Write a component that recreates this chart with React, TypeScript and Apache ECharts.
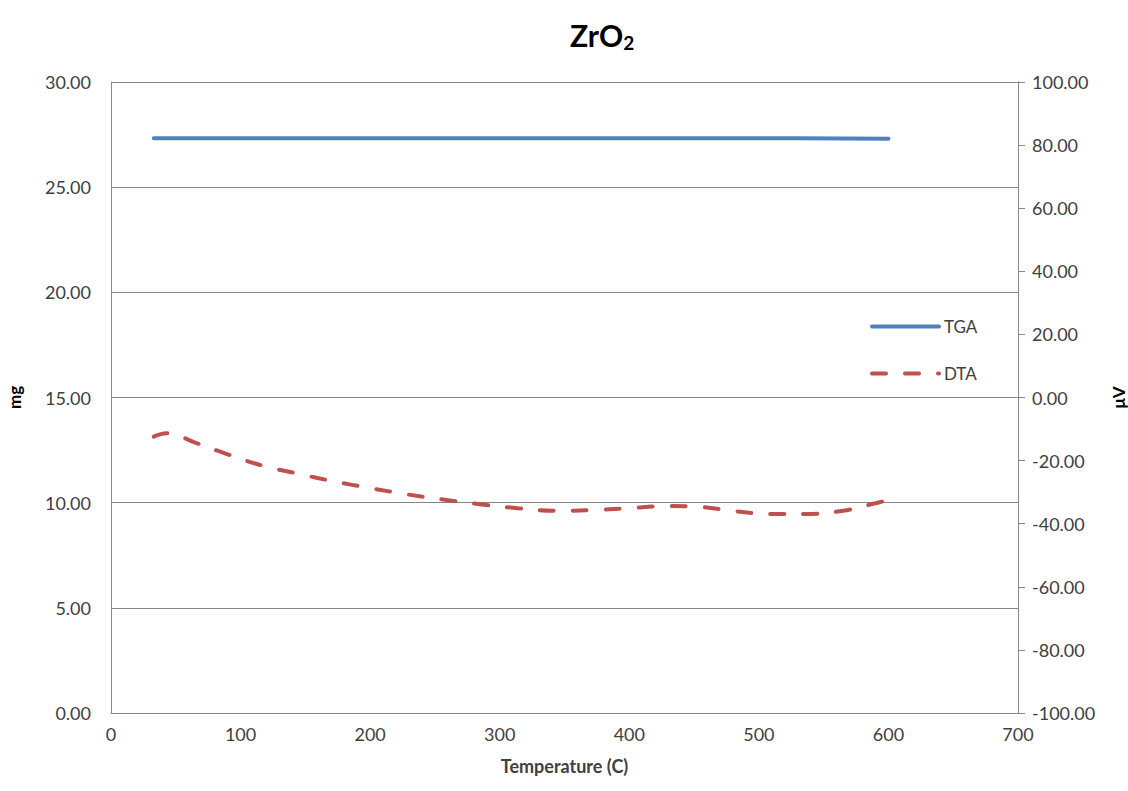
import React, { useEffect, useRef } from "react";
import * as echarts from "echarts";

const tgaData: [number, number][] = [
  [33, 27.33], [150, 27.33], [300, 27.33], [450, 27.32], [530, 27.32], [600, 27.3],
];
const dtaData: [number, number][] = [
  [33, -12.4], [43, -11.3], [65, -14.3], [90, -18], [117, -21.6], [145, -24.2],
  [172, -26.6], [200, -28.7], [227, -30.6], [256, -32.3], [286, -33.9], [314, -35.1],
  [343, -35.9], [370, -35.7], [399, -35.1], [428, -34.4], [455, -34.7], [481, -36],
  [509, -36.9], [537, -36.9], [565, -35.9], [590, -33.5], [600, -32.5],
];

const FONT = "Lato";
const LABEL = "#404040";
const AXIS = "#868686";

export default function App() {
  const ref = useRef<HTMLDivElement>(null);
  useEffect(() => {
    const chart = echarts.init(ref.current!, null, { renderer: "svg" });
    chart.setOption({
      animation: false,
      backgroundColor: "#fff",
      textStyle: { fontFamily: FONT },
      title: {
        text: "ZrO{sub|2}",
        left: 565,
        top: 12,
        textStyle: {
          fontFamily: FONT,
          fontSize: 30,
          fontWeight: "bold",
          color: "#000",
          rich: {
            sub: { fontFamily: FONT, fontSize: 19, fontWeight: "bold", color: "#000", verticalAlign: "bottom", padding: [16, 0, 0, 0] },
          },
        },
      },
      legend: {
        orient: "vertical",
        left: 865,
        top: 313,
        itemWidth: 67,
        itemHeight: 14,
        itemGap: 30,
        itemStyle: { opacity: 0 },
        lineStyle: { width: 4, cap: "round" },
        textStyle: { fontFamily: FONT, fontSize: 17, color: LABEL },
        data: ["TGA", "DTA"],
      },
      grid: { left: 111, right: 110, top: 82, bottom: 78, containLabel: false, outerBoundsMode: "none" },
      xAxis: {
        type: "value",
        min: 0,
        max: 700,
        interval: 100,
        name: "Temperature (C)",
        nameLocation: "middle",
        nameGap: 44,
        nameTextStyle: { fontFamily: FONT, fontSize: 18, fontWeight: "bold", color: LABEL },
        axisLine: { show: true, lineStyle: { color: AXIS, width: 1 } },
        axisTick: { show: false },
        axisLabel: { fontFamily: FONT, fontSize: 18, color: LABEL, margin: 12 },
        splitLine: { show: false },
      },
      yAxis: [
        {
          type: "value",
          min: 0,
          max: 30,
          interval: 5,
          name: "mg",
          nameLocation: "middle",
          nameGap: 88,
          nameRotate: 90,
          nameTextStyle: { fontFamily: FONT, fontSize: 17, fontWeight: "bold", color: "#000" },
          axisLine: { show: true, lineStyle: { color: AXIS, width: 1 } },
          axisTick: { show: false },
          axisLabel: { fontFamily: FONT, fontSize: 18, color: LABEL, margin: 20, formatter: (v: number) => v.toFixed(2) },
          splitLine: { show: true, lineStyle: { color: AXIS, width: 1 } },
        },
        {
          type: "value",
          min: -100,
          max: 100,
          interval: 20,
          position: "right",
          name: "μV",
          nameLocation: "middle",
          nameGap: 92,
          nameRotate: 90,
          nameTextStyle: { fontFamily: FONT, fontSize: 17, fontWeight: "bold", color: "#000" },
          axisLine: { show: true, lineStyle: { color: AXIS, width: 1 } },
          axisTick: { show: true, length: 7, inside: false, lineStyle: { color: AXIS } },
          axisLabel: { fontFamily: FONT, fontSize: 18, color: LABEL, margin: 14, formatter: (v: number) => v.toFixed(2) },
          splitLine: { show: false },
        },
      ],
      series: [
        {
          name: "TGA",
          type: "line",
          yAxisIndex: 0,
          data: tgaData,
          showSymbol: false,
          symbol: "none",
          color: "#4F81BD",
          lineStyle: { color: "#4F81BD", width: 4, cap: "round" },
        },
        {
          name: "DTA",
          type: "line",
          yAxisIndex: 1,
          data: dtaData,
          smooth: 0.4,
          showSymbol: false,
          symbol: "none",
          color: "#C0504D",
          lineStyle: { color: "#C0504D", width: 4, type: [14, 19], cap: "round" },
        },
      ],
    });
    return () => chart.dispose();
  }, []);
  return <div ref={ref} style={{ position: "fixed", left: 0, top: 0, width: 1128, height: 791 }} />;
}
